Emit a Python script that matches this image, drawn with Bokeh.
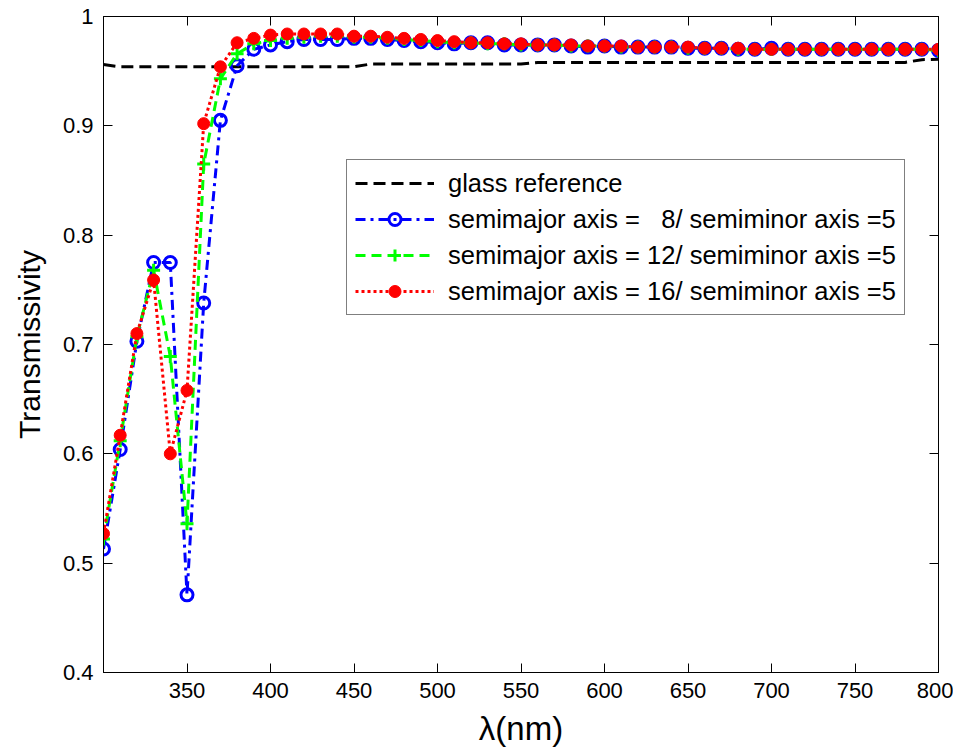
from bokeh.plotting import figure
from bokeh.models import LinearAxis, FixedTicker, Range1d, Legend, LegendItem
from bokeh.embed import file_html
from bokeh.resources import INLINE

wavelength = list(range(300, 801, 10))

glass = [0.956] + [0.954] * 15 + [0.9565] * 10 + [0.958] * 23 + [0.9605, 0.961]

semi8 = [0.513, 0.604, 0.703, 0.775, 0.775, 0.471, 0.738, 0.905, 0.955, 0.970,
         0.974, 0.977, 0.979, 0.979, 0.979, 0.980, 0.980, 0.979, 0.978, 0.977,
         0.976, 0.975, 0.976, 0.976, 0.974, 0.974, 0.974, 0.974, 0.973, 0.972,
         0.973, 0.972, 0.972, 0.972, 0.972, 0.971, 0.971, 0.971, 0.970, 0.970,
         0.971, 0.970, 0.970, 0.970, 0.970, 0.970, 0.970, 0.970, 0.970, 0.970,
         0.969]

semi12 = [0.522, 0.612, 0.707, 0.768, 0.689, 0.536, 0.865, 0.943, 0.966, 0.975,
          0.978, 0.980, 0.981, 0.982, 0.982, 0.981, 0.981, 0.980, 0.979, 0.978,
          0.977, 0.976, 0.976, 0.975, 0.975, 0.974, 0.974, 0.974, 0.973, 0.973,
          0.973, 0.972, 0.972, 0.972, 0.972, 0.971, 0.971, 0.971, 0.970, 0.970,
          0.970, 0.970, 0.970, 0.970, 0.970, 0.970, 0.970, 0.970, 0.970, 0.970,
          0.969]

semi16 = [0.527, 0.617, 0.710, 0.759, 0.600, 0.658, 0.902, 0.954, 0.976, 0.980,
          0.983, 0.984, 0.984, 0.984, 0.984, 0.982, 0.982, 0.981, 0.980, 0.979,
          0.978, 0.977, 0.976, 0.976, 0.975, 0.975, 0.974, 0.974, 0.974, 0.973,
          0.973, 0.973, 0.972, 0.972, 0.972, 0.972, 0.971, 0.971, 0.971, 0.970,
          0.970, 0.970, 0.970, 0.970, 0.970, 0.970, 0.970, 0.970, 0.970, 0.970,
          0.970]

x_ticks = [350, 400, 450, 500, 550, 600, 650, 700, 750, 800]
y_ticks = [0.4, 0.5, 0.6, 0.7, 0.8, 0.9, 1.0]
y_tick_labels = ["0.4", "0.5", "0.6", "0.7", "0.8", "0.9", "1"]

labels = ["glass reference",
          "semimajor axis = \u00a0\u00a08/ semiminor axis =5",
          "semimajor axis = 12/ semiminor axis =5",
          "semimajor axis = 16/ semiminor axis =5"]

FONT = "Liberation Sans"

p = figure(width=953, height=752, x_range=Range1d(300, 800), y_range=Range1d(0.4, 1.0),
           output_backend="svg", toolbar_location=None,
           min_border_left=103, min_border_right=15, min_border_top=16, min_border_bottom=80)
p.background_fill_color = "white"
p.border_fill_color = "white"
p.xgrid.visible = False
p.ygrid.visible = False
p.outline_line_color = "black"
p.outline_line_width = 1
p.outline_line_alpha = 1

for ax in [p.xaxis[0], p.yaxis[0]]:
    ax.major_tick_in = 9
    ax.major_tick_out = 0
    ax.minor_tick_in = 0
    ax.minor_tick_out = 0
    ax.axis_line_color = "black"
    ax.major_tick_line_color = "black"
    ax.major_label_text_font = FONT
    ax.major_label_text_font_size = "22px"
    ax.major_label_text_color = "black"
    ax.axis_label_text_font = FONT
    ax.axis_label_text_font_style = "normal"
    ax.axis_label_text_color = "black"
    ax.major_label_standoff = 10

p.xaxis.ticker = FixedTicker(ticks=x_ticks)
p.yaxis.ticker = FixedTicker(ticks=y_ticks)
p.yaxis.major_label_overrides = {t: l for t, l in zip(y_ticks, y_tick_labels)}
p.xaxis.axis_label = "\u03bb(nm)"
p.yaxis.axis_label = "Transmissivity"
p.xaxis.axis_label_text_font_size = "33px"
p.yaxis.axis_label_text_font_size = "30px"
p.xaxis.axis_label_standoff = 9
p.yaxis.axis_label_standoff = 14

top = LinearAxis(ticker=FixedTicker(ticks=x_ticks), major_tick_in=9, major_tick_out=0,
                 minor_tick_in=0, minor_tick_out=0, major_label_text_font_size="0px",
                 major_label_standoff=0, major_label_overrides={t: "" for t in x_ticks})
right = LinearAxis(ticker=FixedTicker(ticks=y_ticks), major_tick_in=9, major_tick_out=0,
                   minor_tick_in=0, minor_tick_out=0, major_label_text_font_size="0px",
                   major_label_standoff=0, major_label_overrides={t: "" for t in y_ticks})
p.add_layout(top, "above")
p.add_layout(right, "right")

r0 = p.line(wavelength, glass, line_color="black", line_width=3, line_dash="12 6")
l1 = p.line(wavelength, semi8, line_color="#0000ff", line_width=3, line_dash="10 5 3 5")
s1 = p.scatter(wavelength, semi8, marker="circle", size=12, fill_color=None,
               line_color="#0000ff", line_width=3)
l2 = p.line(wavelength, semi12, line_color="#00ff00", line_width=3, line_dash="10 6")
s2 = p.scatter(wavelength, semi12, marker="cross", size=13, line_color="#00ff00", line_width=3)
l3 = p.line(wavelength, semi16, line_color="#ff0000", line_width=3, line_dash="3 3")
s3 = p.scatter(wavelength, semi16, marker="circle", size=12, fill_color="#ff0000",
               line_color="#ff0000", line_width=1)

legend = Legend(items=[LegendItem(label=labels[0], renderers=[r0]),
                       LegendItem(label=labels[1], renderers=[l1, s1]),
                       LegendItem(label=labels[2], renderers=[l2, s2]),
                       LegendItem(label=labels[3], renderers=[l3, s3])],
                location=(243, 357))
legend.label_text_font = FONT
legend.label_text_font_size = "25.5px"
legend.label_text_color = "black"
legend.glyph_width = 79
legend.glyph_height = 30
legend.label_height = 30
legend.label_standoff = 14
legend.padding = 8
legend.spacing = 6
legend.margin = 0
legend.border_line_color = "black"
legend.border_line_width = 1
legend.background_fill_color = "white"
legend.background_fill_alpha = 1
p.add_layout(legend)

open("out.html", "w").write(file_html(p, INLINE))
